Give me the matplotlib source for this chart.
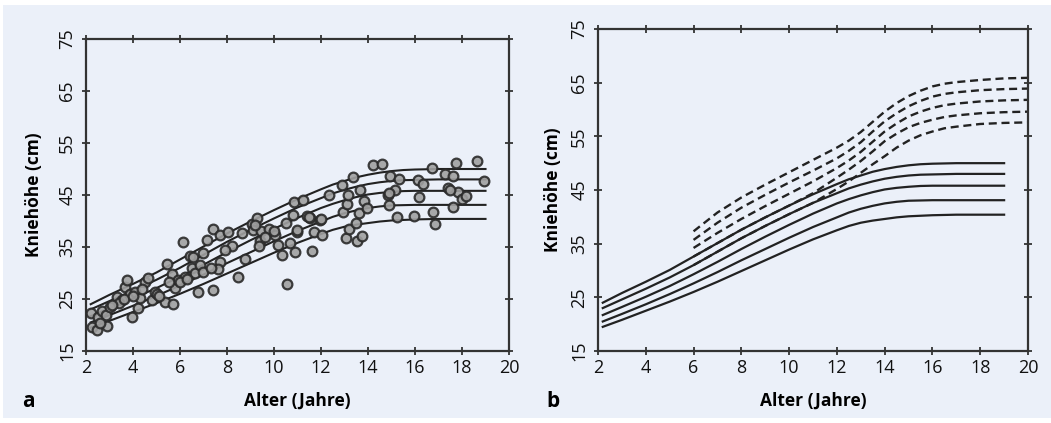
import numpy as np
import matplotlib
matplotlib.use("Agg")
import matplotlib.pyplot as plt
from matplotlib.patches import Rectangle

plt.rcParams['font.family'] = ['Open Sans', 'DejaVu Sans']

# percentile curves (same in both panels)
curve_x = [2.2, 3, 4, 5, 6, 7, 8, 9, 10, 11, 12, 12.5, 13, 13.5, 14, 14.5, 15, 15.5, 16, 17, 18, 19]
p1 = [24.0, 25.8, 27.9, 30.1, 32.6, 35.1, 37.6, 39.9, 42.1, 44.2, 46.1, 47.0, 47.7, 48.4, 48.9, 49.3, 49.6, 49.8, 49.9, 50.0, 50.0, 50.0]
p2 = [23.0, 24.6, 26.6, 28.7, 31.0, 33.5, 36.0, 38.3, 40.5, 42.6, 44.4, 45.3, 46.0, 46.6, 47.1, 47.45, 47.7, 47.85, 47.9, 48.0, 48.0, 48.0]
p3 = [21.7, 23.2, 25.1, 27.1, 29.3, 31.6, 34.0, 36.3, 38.5, 40.6, 42.5, 43.3, 44.0, 44.6, 45.1, 45.4, 45.6, 45.75, 45.8, 45.8, 45.8, 45.8]
p4 = [20.5, 21.9, 23.7, 25.6, 27.6, 29.7, 31.9, 34.0, 36.1, 38.1, 39.9, 40.8, 41.5, 42.05, 42.5, 42.8, 43.0, 43.05, 43.1, 43.1, 43.1, 43.1]
p5 = [19.5, 20.8, 22.5, 24.2, 26.0, 27.9, 29.9, 31.9, 33.9, 35.8, 37.5, 38.3, 38.9, 39.3, 39.6, 39.9, 40.1, 40.2, 40.3, 40.4, 40.4, 40.4]
solid_curves = [p1, p2, p3, p4, p5]

# dashed reference curves (panel b)
dash_x = [6, 7, 8, 9, 10, 11, 12, 12.5, 13, 13.5, 14, 14.5, 15, 15.5, 16, 16.5, 17, 18, 19, 20]
d1 = [37.3, 40.8, 43.6, 46.0, 48.3, 50.6, 52.9, 54.2, 55.8, 57.7, 59.6, 61.2, 62.5, 63.5, 64.3, 64.8, 65.1, 65.5, 65.8, 65.9]
d2 = [35.7, 38.9, 41.7, 44.1, 46.4, 48.6, 50.9, 52.3, 53.9, 55.9, 57.8, 59.3, 60.6, 61.6, 62.4, 62.9, 63.2, 63.6, 63.8, 63.9]
d3 = [34.2, 37.0, 39.6, 42.0, 44.3, 46.6, 49.1, 50.5, 52.1, 54.0, 55.9, 57.4, 58.7, 59.6, 60.3, 60.8, 61.1, 61.5, 61.7, 61.8]
d4 = [32.6, 35.1, 37.6, 39.9, 42.1, 44.4, 47.3, 48.8, 50.4, 52.2, 54.1, 55.5, 56.7, 57.5, 58.1, 58.6, 58.9, 59.3, 59.5, 59.6]
d5 = [31.0, 33.5, 36.0, 38.3, 40.5, 42.6, 45.2, 46.6, 48.2, 49.8, 51.3, 52.9, 54.2, 55.2, 55.9, 56.5, 56.8, 57.3, 57.5, 57.6]
dashed_curves = [d1, d2, d3, d4, d5]

# measured children (panel a)
age_a = [2.20, 2.27, 2.45, 2.52, 2.67, 2.84, 2.88, 3.02, 3.31, 3.52,
         3.66, 3.73, 3.87, 3.94, 4.09, 4.23, 4.30, 4.51, 4.65, 4.80,
         4.94, 5.00, 5.36, 5.43, 5.65, 5.72, 5.79, 5.93, 6.14, 6.21,
         6.43, 6.57, 6.50, 6.64, 6.78, 6.85, 6.99, 7.14, 7.42, 7.42,
         7.70, 7.70, 7.60, 8.06, 8.20, 8.48, 8.63, 8.77,
         3.40, 3.60, 4.00, 4.40, 5.10, 5.55, 6.00, 6.30, 7.00, 7.30, 7.90, 3.10, 2.60,
         9.05, 9.26, 9.12, 9.43, 9.40, 9.38, 9.80, 10.04, 10.18, 10.33,
         10.55, 10.50, 10.68, 10.82, 10.85, 10.89, 10.99, 11.22, 11.39, 11.53,
         11.60, 11.70, 11.96, 12.03, 12.35, 12.88, 12.95, 13.06, 13.09, 13.16,
         13.20, 13.38, 13.50, 13.52, 13.60, 13.64, 13.73, 13.83, 13.97, 14.21,
         14.58, 14.86, 14.90, 14.93, 15.15, 15.22, 15.33, 15.96, 16.14, 16.18,
         16.36, 16.71, 16.78, 16.85, 17.28, 17.42, 17.60, 17.63, 17.74, 17.84,
         17.99, 18.17, 18.62, 18.94,
         9.20, 9.60, 10.00, 11.00, 11.50, 12.00, 14.90, 17.50]
knee_a = [22.4, 19.7, 19.0, 21.6, 22.6, 21.9, 19.8, 23.4, 25.4, 24.8,
          27.4, 28.7, 26.0, 21.5, 26.4, 23.2, 25.1, 28.3, 29.0, 24.8,
          26.4, 26.0, 24.5, 31.7, 29.9, 24.0, 27.1, 28.7, 35.9, 29.3,
          33.3, 33.1, 31.0, 30.0, 26.4, 31.5, 33.8, 36.3, 38.4, 26.7,
          37.3, 32.2, 30.8, 37.9, 35.1, 29.3, 37.6, 32.6,
          24.3, 25.0, 25.5, 27.0, 25.6, 28.2, 28.3, 28.8, 30.2, 31.0, 34.5, 23.8, 20.3,
          39.5, 40.5, 38.3, 38.0, 36.2, 35.1, 38.4, 37.3, 35.4, 33.5,
          27.9, 39.7, 35.7, 41.2, 43.6, 34.1, 37.8, 44.1, 41.0, 40.5,
          34.3, 37.8, 40.1, 37.3, 45.0, 47.0, 41.8, 36.7, 43.3, 45.0,
          38.4, 48.4, 39.7, 36.1, 41.6, 46.0, 37.1, 43.8, 42.5, 50.8,
          51.0, 45.0, 43.1, 48.7, 46.0, 40.7, 48.1, 40.9, 47.9, 44.6,
          47.2, 50.2, 41.7, 39.5, 49.1, 46.3, 42.7, 48.6, 51.1, 45.5,
          44.2, 44.8, 51.5, 47.6,
          39.2, 37.0, 38.0, 38.2, 40.7, 40.4, 45.3, 46.0]

x_ticks = [2, 4, 6, 8, 10, 12, 14, 16, 18, 20]
y_ticks = [15, 25, 35, 45, 55, 65, 75]

bg = '#ebf0f9'
ink = '#222222'

fig = plt.figure(figsize=(10.51, 4.23), dpi=100)
fig.patch.set_facecolor('white')
fig.patches.append(Rectangle((3 / 1051, 5 / 423), 1 - 3 / 1051, 1 - 10 / 423,
                             transform=fig.transFigure, facecolor=bg,
                             edgecolor='none', zorder=-10))

ax_a = fig.add_axes([86 / 1051, 72 / 423, 423 / 1051, 312 / 423])
ax_b = fig.add_axes([598 / 1051, 72 / 423, 430 / 1051, 322 / 423])


def style(ax, ypad):
    ax.set_facecolor(bg)
    ax.set_xlim(2, 20)
    ax.set_ylim(15, 75)
    ax.set_xticks(x_ticks)
    ax.set_yticks(y_ticks)
    for s in ax.spines.values():
        s.set_linewidth(1.6)
        s.set_color('#333333')
    ax.tick_params(direction='inout', length=6, width=1.3, color='#333333',
                   top=True, right=True, labelsize=13, labelcolor='#111111')
    ax.tick_params(axis='x', pad=3)
    ax.tick_params(axis='y', pad=4)
    for lab in ax.get_yticklabels():
        lab.set_rotation(90)
        lab.set_va('center')
    ax.set_xlabel('Alter (Jahre)', fontsize=12.5, fontweight='bold', labelpad=10)
    ax.set_ylabel('Kniehöhe (cm)', fontsize=12.5, fontweight='bold', labelpad=ypad)


style(ax_a, 11)
style(ax_b, 6)

# panel a
for c in solid_curves:
    ax_a.plot(curve_x, c, color=ink, lw=1.5, zorder=2)
ax_a.plot(age_a, knee_a, 'o', ms=7, mfc='#a0a0a0', mec='#2a2a2a', mew=1.6,
          alpha=0.9, zorder=3)

# panel b
for c in solid_curves:
    ax_b.plot(curve_x, c, color=ink, lw=1.6, zorder=2)
for c in dashed_curves:
    ax_b.plot(dash_x, c, color=ink, lw=1.7, dashes=(3.4, 2.0), zorder=2)

fig.text(22 / 1051, 1 - 401 / 423, 'a', fontsize=15, fontweight='bold', va='center')
fig.text(546 / 1051, 1 - 401 / 423, 'b', fontsize=15, fontweight='bold', va='center')

fig.savefig('out.png', dpi=100, facecolor=fig.get_facecolor())
